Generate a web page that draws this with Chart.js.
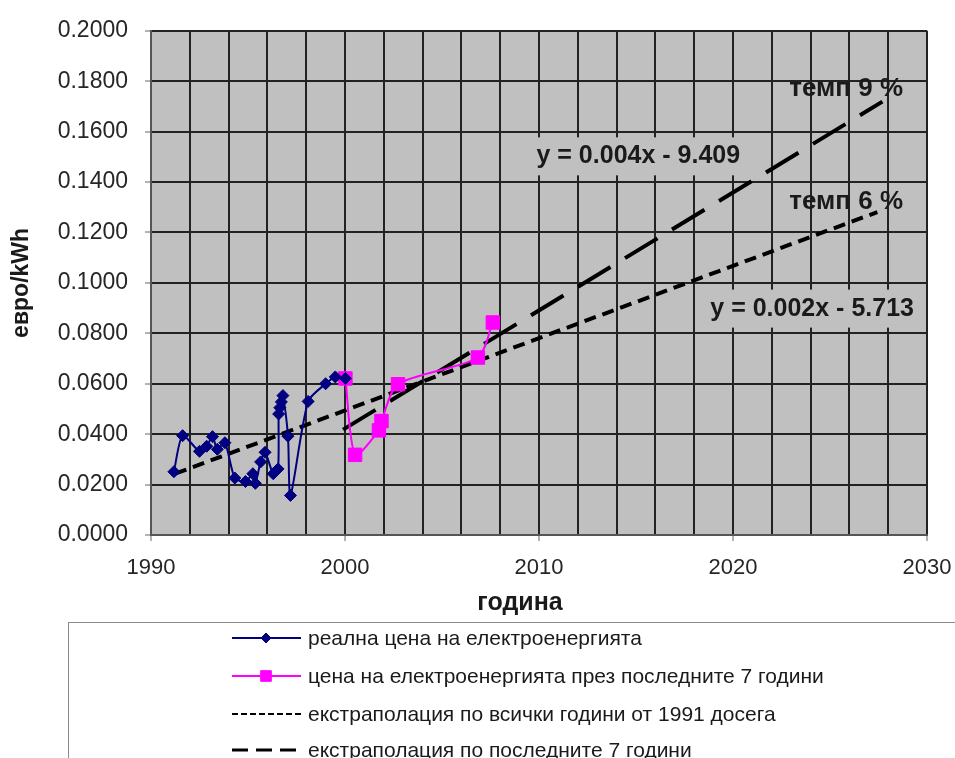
<!DOCTYPE html>
<html>
<head>
<meta charset="utf-8">
<script src="https://cdn.jsdelivr.net/npm/chart.js@4/dist/chart.umd.min.js"></script>
<style>
  html, body { margin: 0; padding: 0; background: #ffffff; }
  #wrap { width: 955px; height: 758px; }
</style>
</head>
<body>
<div id="wrap"><canvas id="priceChart" width="955" height="758"></canvas></div>
<script>
// Real electricity price, 1991 - 2000 (euro/kWh)
const realYears = [1991.18, 1991.63, 1992.50, 1992.87, 1993.17, 1993.42, 1993.81, 1994.32,
  1994.87, 1995.25, 1995.38, 1995.65, 1995.88, 1996.30, 1996.55, 1996.58, 1996.64, 1996.72,
  1996.80, 1997.06, 1997.19, 1998.10, 1999.00, 1999.50, 2000.02];
const realPrice = [0.0251, 0.0394, 0.0332, 0.0352, 0.0390, 0.0340, 0.0366, 0.0226,
  0.0212, 0.0243, 0.0205, 0.0290, 0.0328, 0.0243, 0.0262, 0.0480, 0.0505, 0.0528,
  0.0553, 0.0392, 0.0157, 0.0530, 0.0600, 0.0627, 0.0621];

// Price over the last 7 years
const recentYears = [2000.02, 2000.52, 2001.75, 2001.88, 2002.73, 2006.85, 2007.62];
const recentPrice = [0.0621, 0.0318, 0.0415, 0.0452, 0.0598, 0.0704, 0.0843];

// Linear extrapolations (end points of each trend line)
const trendAllYears = [1991.24, 2027.44];
const trendAllPrice = [0.0243, 0.1281];
const trendRecentYears = [1999.90, 2027.70];
const trendRecentPrice = [0.0418, 0.1719];

const seriesNames = [
  'реална цена на електроенергията',
  'цена на електроенергията през последните 7 години',
  'екстраполация по всички години от 1991 досега',
  'екстраполация по последните 7 години'
];
const xTickLabels = [1990, 2000, 2010, 2020, 2030];
const equationTexts = ['y = 0.004x - 9.409', 'y = 0.002x - 5.713'];
const rateTexts = ['темп 9 %', 'темп 6 %'];
const xAxisTitle = 'година';
const yAxisTitle = 'евро/kWh';

const toPoints = (xs, ys) => xs.map((x, i) => ({ x: x, y: ys[i] }));

const FONT = '"Liberation Sans", Arial, sans-serif';
const PLOT_BG = '#c0c0c0';

// Text placed on the plot, anchored in data coordinates
const notes = [
  { text: rateTexts[0], x: 2022.9, y: 0.1769, box: false, size: 26 },
  { text: equationTexts[0], x: 2009.87, y: 0.1502, box: true, size: 25 },
  { text: rateTexts[1], x: 2022.9, y: 0.1322, box: false, size: 26 },
  { text: equationTexts[1], x: 2018.83, y: 0.0898, box: true, size: 25 }
];

const plotBackground = {
  id: 'plotBackground',
  beforeDraw(chart) {
    const { ctx, chartArea: a } = chart;
    ctx.save();
    ctx.fillStyle = PLOT_BG;
    ctx.fillRect(a.left, a.top, a.right - a.left, a.bottom - a.top);
    ctx.restore();
  }
};

const plotNotes = {
  id: 'plotNotes',
  beforeDatasetsDraw(chart) {
    const { ctx, scales } = chart;
    ctx.save();
    notes.filter(n => n.box).forEach(n => {
      ctx.font = 'bold ' + n.size + 'px ' + FONT;
      const px = scales.x.getPixelForValue(n.x);
      const py = scales.y.getPixelForValue(n.y);
      const w = ctx.measureText(n.text).width;
      ctx.fillStyle = PLOT_BG;
      ctx.fillRect(px - 6, py - 19, w + 12, 38);
    });
    ctx.restore();
  },
  afterDatasetsDraw(chart) {
    const { ctx, scales } = chart;
    ctx.save();
    ctx.fillStyle = '#1a1a1a';
    ctx.textAlign = 'left';
    ctx.textBaseline = 'middle';
    notes.forEach(n => {
      ctx.font = 'bold ' + n.size + 'px ' + FONT;
      ctx.fillText(n.text, scales.x.getPixelForValue(n.x), scales.y.getPixelForValue(n.y));
    });
    ctx.restore();
  }
};

// Horizontal axis title, centred under the whole chart rather than the plot
const xTitle = {
  id: 'xTitle',
  afterDraw(chart) {
    const { ctx } = chart;
    ctx.save();
    ctx.fillStyle = '#1a1a1a';
    ctx.font = 'bold 25px ' + FONT;
    ctx.textAlign = 'center';
    ctx.textBaseline = 'middle';
    ctx.fillText(xAxisTitle, 520, 603);
    ctx.restore();
  }
};

// Boxed legend listing the series one per row
const boxLegend = {
  id: 'boxLegend',
  afterDraw(chart) {
    const { ctx } = chart;
    ctx.save();
    ctx.strokeStyle = '#8a8a8a';
    ctx.lineWidth = 1;
    ctx.strokeRect(68.5, 622.5, 900, 150);
    const rows = [638, 676, 714, 750];
    const x0 = 232, x1 = 301, xm = 266;
    chart.data.datasets.forEach((ds, i) => {
      const y = rows[i];
      ctx.save();
      ctx.strokeStyle = ds.borderColor;
      ctx.lineWidth = ds.legendLineWidth;
      ctx.setLineDash(ds.legendDash || []);
      ctx.beginPath();
      ctx.moveTo(x0, y);
      ctx.lineTo(x1, y);
      ctx.stroke();
      ctx.restore();
      if (ds.pointRadius > 0) {
        ctx.fillStyle = ds.pointBackgroundColor;
        ctx.strokeStyle = ds.pointBorderColor;
        ctx.lineWidth = 1;
        Chart.helpers.drawPoint(ctx, {
          pointStyle: ds.pointStyle,
          radius: ds.legendPointRadius,
          borderWidth: 1
        }, xm, y);
      }
      ctx.fillStyle = '#1a1a1a';
      ctx.font = '21px ' + FONT;
      ctx.textAlign = 'left';
      ctx.textBaseline = 'middle';
      ctx.fillText(ds.label, 308, y + 1);
    });
    ctx.restore();
  }
};

new Chart(document.getElementById('priceChart'), {
  type: 'line',
  data: {
    datasets: [
      {
        label: seriesNames[0],
        data: toPoints(realYears, realPrice),
        borderColor: '#000080',
        backgroundColor: '#000080',
        pointBackgroundColor: '#000080',
        pointBorderColor: '#000080',
        borderWidth: 2,
        pointStyle: 'rectRot',
        pointRadius: 6,
        pointBorderWidth: 1,
        tension: 0.25,
        legendLineWidth: 2,
        legendPointRadius: 5
      },
      {
        label: seriesNames[1],
        data: toPoints(recentYears, recentPrice),
        borderColor: '#ff00ff',
        backgroundColor: '#ff00ff',
        pointBackgroundColor: '#ff00ff',
        pointBorderColor: '#ff00ff',
        borderWidth: 2,
        pointStyle: 'rect',
        pointRadius: 9.5,
        pointBorderWidth: 1,
        tension: 0.25,
        legendLineWidth: 2,
        legendPointRadius: 7.5
      },
      {
        label: seriesNames[2],
        data: toPoints(trendAllYears, trendAllPrice),
        borderColor: '#000000',
        borderWidth: 4,
        borderDash: [12, 7],
        pointRadius: 0,
        legendLineWidth: 2,
        legendDash: [6, 3]
      },
      {
        label: seriesNames[3],
        data: toPoints(trendRecentYears, trendRecentPrice),
        borderColor: '#000000',
        borderWidth: 4,
        borderDash: [38, 17],
        pointRadius: 0,
        legendLineWidth: 3,
        legendDash: [16, 8]
      }
    ]
  },
  options: {
    responsive: false,
    animation: false,
    devicePixelRatio: 1,
    layout: { padding: { left: 0, right: 28, top: 25, bottom: 0 } },
    plugins: {
      legend: { display: false },
      tooltip: { enabled: false }
    },
    scales: {
      x: {
        type: 'linear',
        min: 1990,
        max: 2030,
        afterFit(scale) {
          scale.height = 223;
          scale.paddingLeft = 0;
          scale.paddingRight = 0;
        },
        ticks: {
          stepSize: 2,
          autoSkip: false,
          maxRotation: 0,
          padding: 14,
          color: '#262626',
          font: { family: FONT, size: 22 },
          callback: v => (xTickLabels.includes(v) ? String(v) : '')
        },
        grid: {
          color: '#222222',
          lineWidth: 2,
          tickLength: 6,
          tickWidth: 1,
          tickColor: ctx => (ctx.tick && xTickLabels.includes(ctx.tick.value) ? '#666666' : 'rgba(0,0,0,0)')
        },
        border: { color: '#555555', width: 2 },
        title: { display: false }
      },
      y: {
        min: 0,
        max: 0.2,
        afterFit(scale) { scale.width = 151; },
        ticks: {
          stepSize: 0.02,
          padding: 17,
          color: '#262626',
          font: { family: FONT, size: 23 },
          callback: v => Number(v).toFixed(4)
        },
        grid: {
          color: '#222222',
          lineWidth: 2,
          tickLength: 6,
          tickWidth: 1,
          tickColor: '#666666'
        },
        border: { color: '#555555', width: 2 },
        title: {
          display: true,
          text: yAxisTitle,
          color: '#1a1a1a',
          font: { family: FONT, size: 23, weight: 'bold' },
          padding: { top: 8, bottom: 0 }
        }
      }
    }
  },
  plugins: [plotBackground, plotNotes, xTitle, boxLegend]
});
</script>
</body>
</html>
